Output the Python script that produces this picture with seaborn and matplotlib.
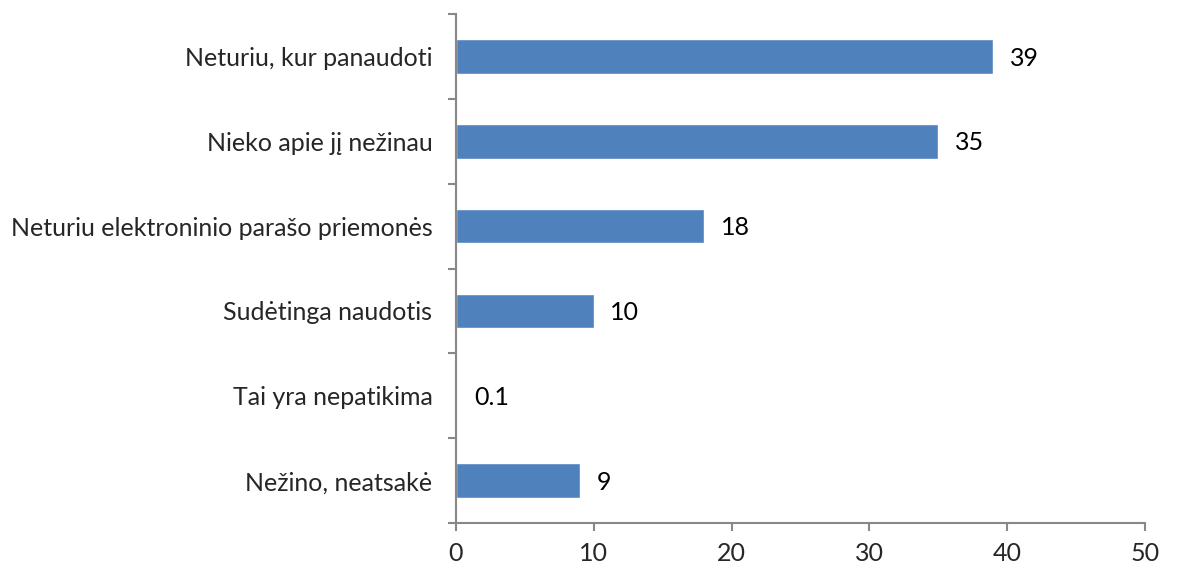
import matplotlib
matplotlib.use("Agg")
import matplotlib.pyplot as plt
import seaborn as sns
import numpy as np

# answers and the share of respondents who gave them
categories = ["Neturiu, kur panaudoti", "Nieko apie jį nežinau",
              "Neturiu elektroninio parašo priemonės", "Sudėtinga naudotis",
              "Tai yra nepatikima", "Nežino, neatsakė"]
values = [39, 35, 18, 10, 0.1, 9]
value_labels = ["39", "35", "18", "10", "0.1", "9"]
x_ticks = [0, 10, 20, 30, 40, 50]

sns.set_theme(style="white")
plt.rcParams['font.family'] = ['Lato', 'DejaVu Sans']

fig = plt.figure(figsize=(11.77, 5.68), dpi=100)
ax = fig.add_axes([456 / 1177, 1 - 523 / 568, (1145 - 456) / 1177, (523 - 14) / 568])

sns.barplot(x=values, y=categories, color="#4F81BD", saturation=1, width=0.41,
            orient="h", ax=ax)

# value labels to the right of each bar
for i, (v, lab) in enumerate(zip(values, value_labels)):
    ax.text(v + 1.2, i + 0.02, lab, va="center", ha="left", fontsize=18, color="black")

ax.set_xlim(0, 50)
ax.set_ylim(5.5, -0.5)
ax.set_xticks(x_ticks)
ax.set_xticklabels([str(t) for t in x_ticks])
ax.set_yticks(np.arange(-0.5, 6.0, 1.0), minor=True)

grey = "#888888"
for side in ["top", "right"]:
    ax.spines[side].set_visible(False)
for side in ["left", "bottom"]:
    ax.spines[side].set_color(grey)
    ax.spines[side].set_linewidth(1.5)

ax.tick_params(axis="y", which="major", length=0, pad=17, labelsize=18)
ax.tick_params(axis="y", which="minor", left=True, length=6, width=1.5, color=grey)
ax.tick_params(axis="x", which="major", bottom=True, length=6, width=1.5,
               color=grey, pad=8, labelsize=18)
ax.set_xlabel("")
ax.set_ylabel("")

fig.savefig("out.png", dpi=100)
